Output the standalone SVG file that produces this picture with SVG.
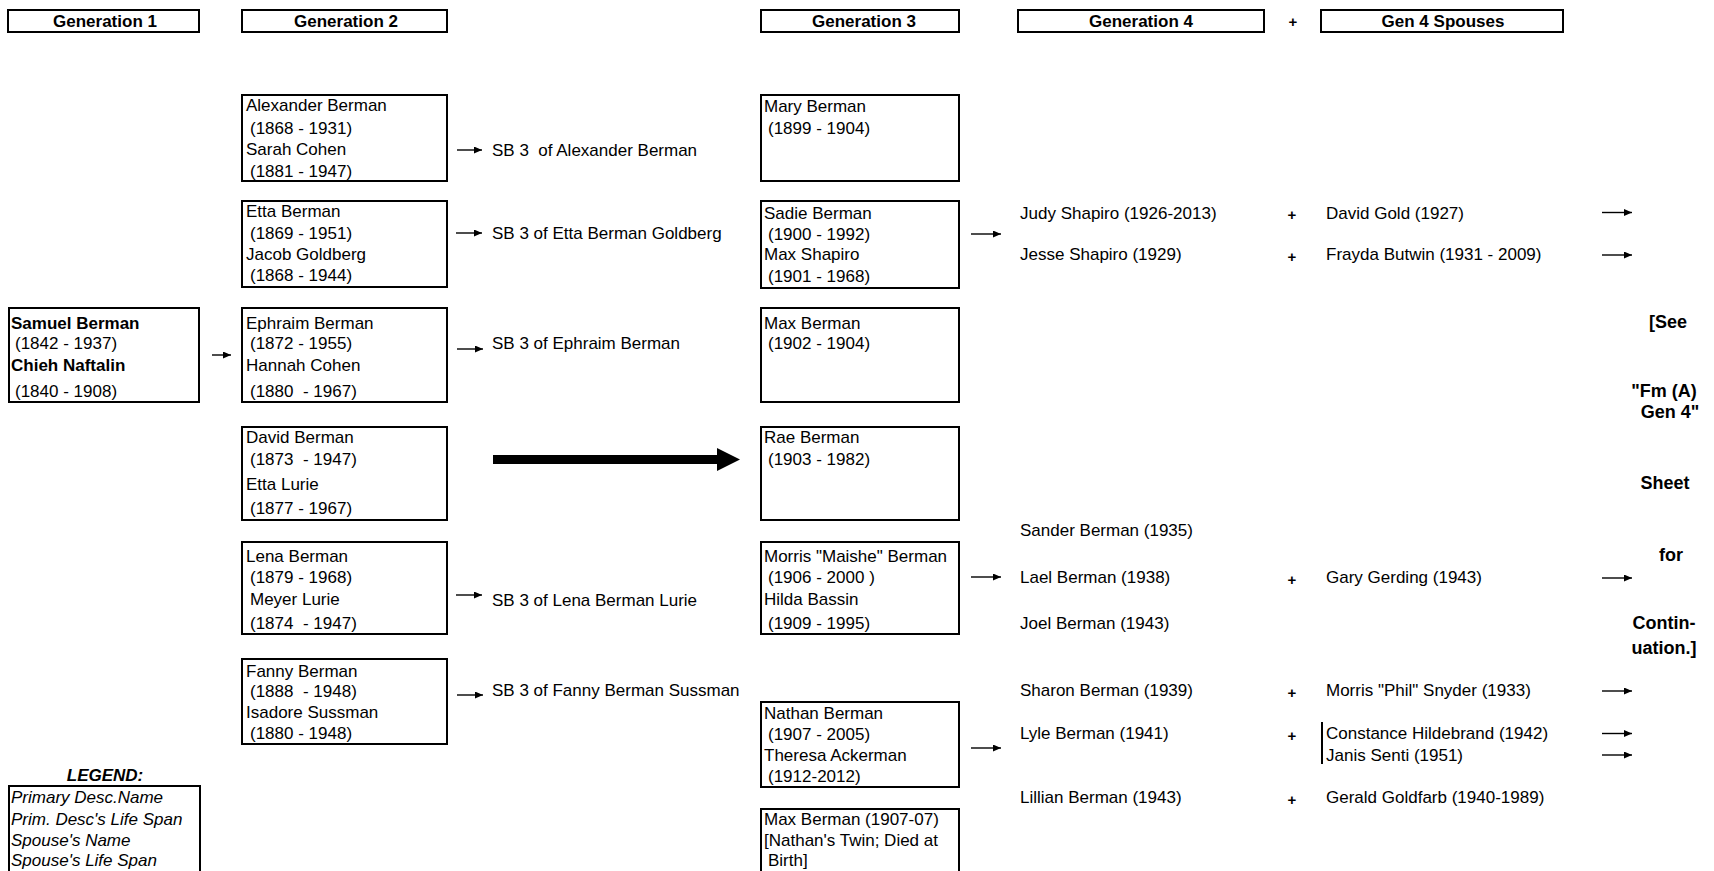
<svg xmlns="http://www.w3.org/2000/svg" width="1714" height="871" viewBox="0 0 1714 871">
<defs>
<marker id="ah" markerUnits="userSpaceOnUse" markerWidth="9" markerHeight="8" refX="8" refY="3.5" orient="auto"><path d="M0,0 L8,3.5 L0,7 z" fill="#000"/></marker>
<style>
text{font-family:"Liberation Sans",Arial,sans-serif;font-size:17px;fill:#000}
.b{font-weight:bold}
.h{font-weight:bold;text-anchor:middle}
.i{font-style:italic}
.pre{white-space:pre}
.box{fill:#fff;stroke:#000;stroke-width:2}
.c{stroke:#000;stroke-width:1.4;fill:none;marker-end:url(#ah)}
.plus{font-weight:bold;text-anchor:middle;font-size:15px}
.r{font-weight:bold;text-anchor:middle;font-size:18px}
</style>
</defs>
<rect width="1714" height="871" fill="#fff"/>

<g id="headers">
<rect class="box" x="8" y="10" width="191" height="22"/><text class="h" x="105" y="27">Generation 1</text>
<rect class="box" x="242" y="10" width="205" height="22"/><text class="h" x="346" y="27">Generation 2</text>
<rect class="box" x="761" y="10" width="198" height="22"/><text class="h" x="864" y="27">Generation 3</text>
<rect class="box" x="1018" y="10" width="246" height="22"/><text class="h" x="1141" y="27">Generation 4</text>
<text class="plus" x="1293" y="27">+</text>
<rect class="box" x="1321" y="10" width="242" height="22"/><text class="h" x="1443" y="27">Gen 4 Spouses</text>
</g>

<g id="samuel">
<rect class="box" x="9" y="308" width="190" height="94"/>
<text class="b" x="11" y="329">Samuel Berman</text>
<text x="15" y="349">(1842 - 1937)</text>
<text class="b" x="11" y="371">Chieh Naftalin</text>
<text x="15" y="396.5">(1840 - 1908)</text>
</g>

<g id="alexander">
<rect class="box" x="242" y="95" width="205" height="86"/>
<text x="246" y="111">Alexander Berman</text>
<text x="250" y="133.5">(1868 - 1931)</text>
<text x="246" y="155">Sarah Cohen</text>
<text x="250" y="177">(1881 - 1947)</text>
</g>
<g id="etta">
<rect class="box" x="242" y="201" width="205" height="86"/>
<text x="246" y="217">Etta Berman</text>
<text x="250" y="238.5">(1869 - 1951)</text>
<text x="246" y="260">Jacob Goldberg</text>
<text x="250" y="281">(1868 - 1944)</text>
</g>
<g id="ephraim">
<rect class="box" x="242" y="308" width="205" height="94"/>
<text x="246" y="329">Ephraim Berman</text>
<text x="250" y="349">(1872 - 1955)</text>
<text x="246" y="371">Hannah Cohen</text>
<text class="pre" x="250" y="396.5">(1880  - 1967)</text>
</g>
<g id="david">
<rect class="box" x="242" y="427" width="205" height="93"/>
<text x="246" y="443">David Berman</text>
<text class="pre" x="250" y="465">(1873  - 1947)</text>
<text x="246" y="490">Etta Lurie</text>
<text x="250" y="514">(1877 - 1967)</text>
</g>
<g id="lena">
<rect class="box" x="242" y="542" width="205" height="92"/>
<text x="246" y="561.5">Lena Berman</text>
<text x="250" y="583">(1879 - 1968)</text>
<text x="250" y="605">Meyer Lurie</text>
<text class="pre" x="250" y="629">(1874  - 1947)</text>
</g>
<g id="fanny">
<rect class="box" x="242" y="659" width="205" height="85"/>
<text x="246" y="676.5">Fanny Berman</text>
<text class="pre" x="250" y="696.5">(1888  - 1948)</text>
<text x="246" y="718">Isadore Sussman</text>
<text x="250" y="739">(1880 - 1948)</text>
</g>

<g id="sb-labels">
<text class="pre" x="492" y="156">SB 3  of Alexander Berman</text>
<text x="492" y="239">SB 3 of Etta Berman Goldberg</text>
<text x="492" y="349">SB 3 of Ephraim Berman</text>
<text x="492" y="606">SB 3 of Lena Berman Lurie</text>
<text x="492" y="696">SB 3 of Fanny Berman Sussman</text>
</g>

<g id="mary">
<rect class="box" x="761" y="95" width="198" height="86"/>
<text x="764" y="112">Mary Berman</text>
<text x="768" y="134">(1899 - 1904)</text>
</g>
<g id="sadie">
<rect class="box" x="761" y="201" width="198" height="87"/>
<text x="764" y="218.5">Sadie Berman</text>
<text x="768" y="240">(1900 - 1992)</text>
<text x="764" y="260">Max Shapiro</text>
<text x="768" y="282">(1901 - 1968)</text>
</g>
<g id="maxb">
<rect class="box" x="761" y="308" width="198" height="94"/>
<text x="764" y="328.5">Max Berman</text>
<text x="768" y="349">(1902 - 1904)</text>
</g>
<g id="rae">
<rect class="box" x="761" y="427" width="198" height="93"/>
<text x="764" y="443">Rae Berman</text>
<text x="768" y="465">(1903 - 1982)</text>
</g>
<g id="morris">
<rect class="box" x="761" y="542" width="198" height="92"/>
<text x="764" y="561.5">Morris "Maishe" Berman</text>
<text x="768" y="583">(1906 - 2000 )</text>
<text x="764" y="605">Hilda Bassin</text>
<text x="768" y="629">(1909 - 1995)</text>
</g>
<g id="nathan">
<rect class="box" x="761" y="702" width="198" height="85"/>
<text x="764" y="718.5">Nathan Berman</text>
<text x="768" y="740">(1907 - 2005)</text>
<text x="764" y="761">Theresa Ackerman</text>
<text x="768" y="782">(1912-2012)</text>
</g>
<g id="maxtwin">
<rect class="box" x="761" y="809" width="198" height="80"/>
<text x="764" y="825">Max Berman (1907-07)</text>
<text x="764" y="846">[Nathan's Twin; Died at</text>
<text x="768" y="866">Birth]</text>
</g>

<g id="gen4">
<text x="1020" y="218.5">Judy Shapiro (1926-2013)</text>
<text x="1020" y="260">Jesse Shapiro (1929)</text>
<text x="1020" y="536">Sander Berman (1935)</text>
<text x="1020" y="583">Lael Berman (1938)</text>
<text x="1020" y="629">Joel Berman (1943)</text>
<text x="1020" y="696">Sharon Berman (1939)</text>
<text x="1020" y="739">Lyle Berman (1941)</text>
<text x="1020" y="803">Lillian Berman (1943)</text>
</g>
<g id="plus-signs">
<text class="plus" x="1292" y="220">+</text>
<text class="plus" x="1292" y="262">+</text>
<text class="plus" x="1292" y="585">+</text>
<text class="plus" x="1292" y="698">+</text>
<text class="plus" x="1292" y="741">+</text>
<text class="plus" x="1292" y="805">+</text>
</g>
<g id="spouses">
<text x="1326" y="218.5">David Gold (1927)</text>
<text x="1326" y="260">Frayda Butwin (1931 - 2009)</text>
<text x="1326" y="583">Gary Gerding (1943)</text>
<text x="1326" y="696">Morris "Phil" Snyder (1933)</text>
<text x="1326" y="739">Constance Hildebrand (1942)</text>
<text x="1326" y="761">Janis Senti (1951)</text>
<text x="1326" y="803">Gerald Goldfarb (1940-1989)</text>
<line x1="1322" y1="722" x2="1322" y2="764" stroke="#000" stroke-width="2"/>
</g>

<g id="see-note">
<text class="r" x="1668" y="328">[See</text>
<text class="r" x="1664" y="397">"Fm (A)</text>
<text class="r" x="1670" y="418">Gen 4"</text>
<text class="r" x="1665" y="489">Sheet</text>
<text class="r" x="1671" y="561">for</text>
<text class="r" x="1664" y="629">Contin-</text>
<text class="r" x="1664" y="654">uation.]</text>
</g>

<g id="legend">
<text class="b i" x="105" y="781" text-anchor="middle">LEGEND:</text>
<rect class="box" x="9" y="786" width="191" height="100"/>
<text class="i" x="11" y="803">Primary Desc.Name</text>
<text class="i" x="11" y="825">Prim. Desc's Life Span</text>
<text class="i" x="11" y="846">Spouse's Name</text>
<text class="i" x="11" y="866">Spouse's Life Span</text>
</g>

<g id="connectors">
<line class="c" x1="212" y1="355" x2="231" y2="355"/>
<line class="c" x1="457" y1="150" x2="482" y2="150"/>
<line class="c" x1="456" y1="233" x2="482" y2="233"/>
<line class="c" x1="457" y1="349" x2="483" y2="349"/>
<line class="c" x1="456" y1="595" x2="482" y2="595"/>
<line class="c" x1="457" y1="695" x2="483" y2="695"/>
<path d="M493,455 H717 V448 L740,459.5 L717,471 V464 H493 Z" fill="#000"/>
<line class="c" x1="971" y1="234" x2="1001" y2="234"/>
<line class="c" x1="971" y1="577" x2="1001" y2="577"/>
<line class="c" x1="971" y1="748" x2="1001" y2="748"/>
<line class="c" x1="1602" y1="212.5" x2="1632" y2="212.5"/>
<line class="c" x1="1602" y1="255" x2="1632" y2="255"/>
<line class="c" x1="1602" y1="578" x2="1632" y2="578"/>
<line class="c" x1="1602" y1="691" x2="1632" y2="691"/>
<line class="c" x1="1602" y1="733.5" x2="1632" y2="733.5"/>
<line class="c" x1="1602" y1="755" x2="1632" y2="755"/>
</g>
</svg>
